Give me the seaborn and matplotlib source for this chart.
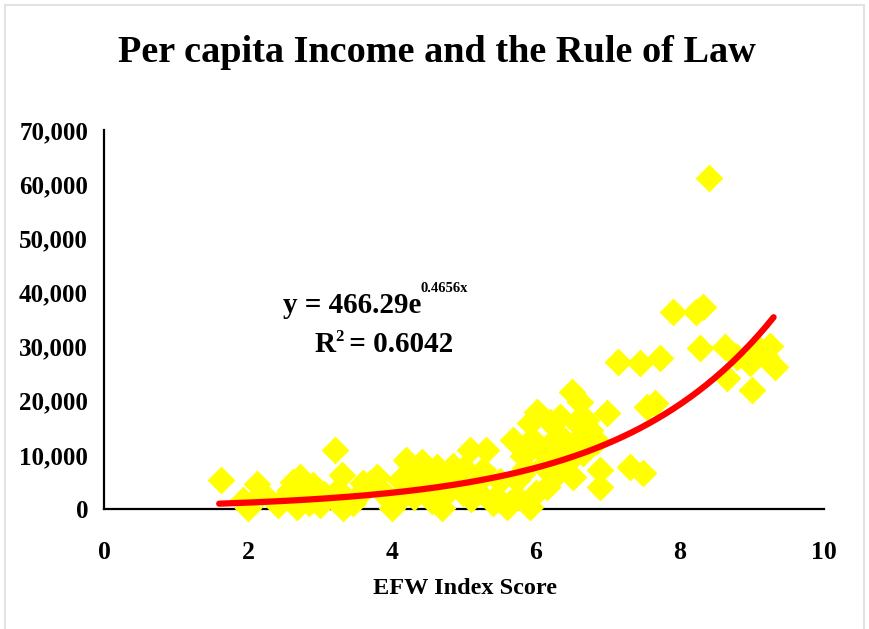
import numpy as np
import pandas as pd
import matplotlib
matplotlib.use("Agg")
import matplotlib.pyplot as plt
from matplotlib.ticker import FuncFormatter
from matplotlib.patches import Rectangle
import seaborn as sns

# ---- data ----
efw_score = [
    1.62, 2.12, 1.93, 2.00, 2.20, 2.42, 2.50, 2.72, 2.58, 2.68, 2.80, 2.90, 3.00, 3.05,
    3.21, 3.31, 3.18, 3.32, 3.40, 3.60, 3.46, 2.62, 2.85, 3.70, 3.79, 3.93, 4.00, 4.11,
    4.20, 4.30, 4.41, 4.48, 4.62, 4.70, 4.80, 4.99, 5.08, 5.18, 5.26, 5.31, 5.40, 5.60,
    5.68, 5.73, 3.85, 4.05, 4.25, 4.35, 4.55, 4.60, 4.90, 5.00, 5.10, 5.45, 5.64, 5.92,
    6.00, 5.73, 4.15, 4.75, 5.20, 3.55, 4.45, 4.85, 5.50, 5.85, 3.25, 2.95,
    5.92, 6.01, 6.50, 6.61, 6.33, 6.98, 5.82, 6.15, 6.43, 6.52, 6.89, 6.89, 7.31, 7.49,
    6.75, 6.65, 6.33, 7.54, 6.20, 6.40, 6.10, 6.25, 6.70, 6.85, 6.55, 6.05, 5.95, 6.30,
    6.60, 5.80, 6.15, 7.65,
    7.14, 7.44, 7.72, 7.90, 8.22, 8.32, 8.28, 8.62, 8.65, 9.00, 9.25, 9.32, 8.97, 8.79,
    8.40, 9.10, 9.20,
]
income = [
    5400, 4700, 1700, 200, 3000, 700, 2000, 6000, 3500, 400, 2500, 4400, 700, 2800,
    10900, 6300, 2300, 200, 1500, 4800, 1100, 5000, 1200, 4800, 6000, 2200, 200, 5300,
    9000, 2200, 8700, 3500, 7800, 200, 6600, 2900, 10900, 4800, 7200, 10900, 1100, 300,
    12700, 2200, 3500, 1200, 6500, 4200, 1500, 5000, 4200, 7500, 1800, 2300, 1100, 400,
    2900, 5300, 3000, 2800, 3200, 2800, 7200, 8000, 5200, 7500, 3500, 3000,
    15800, 18000, 21700, 19800, 17000, 17700, 9700, 11500, 8500, 6000, 7200, 4100, 7800, 6600,
    14600, 10300, 13400, 18900, 16000, 12000, 8000, 6000, 16500, 12500, 16000, 11000, 13000, 9800,
    13000, 6500, 4000, 19500,
    27200, 27000, 27900, 36400, 36400, 37300, 29700, 30000, 24200, 22000, 30100, 26200, 27000, 28100,
    61200, 29500, 28000,
]

# exponential trend line shown on the chart: y = a * exp(b x)
trend_a = 466.29
trend_b = 0.4656
trend_r2 = 0.6042
trend_x_range = [1.6, 9.3]

title_text = "Per capita Income and the Rule of Law"
x_label = "EFW Index Score"
x_ticks = [0, 2, 4, 6, 8, 10]
y_ticks = [0, 10000, 20000, 30000, 40000, 50000, 60000, 70000]

df = pd.DataFrame({"efw": efw_score, "income": income})

sns.set_style("white")
plt.rcParams["font.family"] = ["Liberation Serif", "DejaVu Serif"]
plt.rcParams["font.weight"] = "bold"
plt.rcParams["text.color"] = "black"

W, H = 869, 629
fig = plt.figure(figsize=(W / 100, H / 100), dpi=100)
ax = fig.add_axes([104 / W, 1 - 509 / H, (824 - 104) / W, (509 - 130) / H])

sns.scatterplot(data=df, x="efw", y="income", ax=ax, marker="D", s=200,
                color="#FFFF00", linewidth=0, clip_on=False, zorder=3, legend=False)

tx = np.linspace(trend_x_range[0], trend_x_range[1], 200)
ty = trend_a * np.exp(trend_b * tx)
sns.lineplot(x=tx, y=ty, ax=ax, color="#FF0000", linewidth=4.5, zorder=4,
             solid_capstyle="round", clip_on=False)

ax.set_xlim(0, 10)
ax.set_ylim(0, 70000)
ax.set_xticks(x_ticks)
ax.set_yticks(y_ticks)
ax.yaxis.set_major_formatter(FuncFormatter(lambda v, p: f"{int(v):,}"))
ax.xaxis.set_major_formatter(FuncFormatter(lambda v, p: f"{int(v)}"))

for side in ["top", "right"]:
    ax.spines[side].set_visible(False)
for side in ["left", "bottom"]:
    ax.spines[side].set_color("black")
    ax.spines[side].set_linewidth(1.6)
    ax.spines[side].set_zorder(2)
ax.tick_params(axis="both", direction="out", length=4, width=1.6, color="black",
               labelsize=18.5, labelcolor="black")
ax.tick_params(axis="y", pad=7.5, labelsize=18)
ax.tick_params(axis="x", pad=19)
for lab in ax.get_xticklabels() + ax.get_yticklabels():
    lab.set_fontweight("bold")
ax.set_xlabel("")
ax.set_ylabel("")
ax.set_facecolor("white")

fig.text(437 / W, 1 - 52 / H, title_text, ha="center", va="center",
         fontsize=27.5, fontweight="bold", color="black")
fig.text(465 / W, 1 - 588 / H, x_label, ha="center", va="center",
         fontsize=17.5, fontweight="bold", color="black")

# trend-line equation and R^2, assembled from pieces (superscripts smaller)
fig.canvas.draw()
renderer = fig.canvas.get_renderer()


def put(x_px, base_px, s, size):
    t = fig.text(x_px / W, 1 - base_px / H, s, ha="left", va="baseline",
                 fontsize=size, fontweight="bold", color="black")
    bb = t.get_window_extent(renderer=renderer)
    return bb.x1  # pixels from left


x_end = put(283, 313, "y = 466.29e", 21)
put(x_end - 1, 292, f"{trend_b:.4f}x", 10.5)

x_end = put(315, 352, "R", 21)
x_end = put(x_end - 1, 341, "2", 12)
put(x_end - 1, 352, f" = {trend_r2:.4f}", 21)

fig.patches.append(Rectangle((5 / W, -0.05), (864 - 5) / W, 1.05 - 5 / H,
                             transform=fig.transFigure, fill=False,
                             edgecolor="#e3e3e3", linewidth=1.5))

fig.savefig("out.png", dpi=100, facecolor="white")
